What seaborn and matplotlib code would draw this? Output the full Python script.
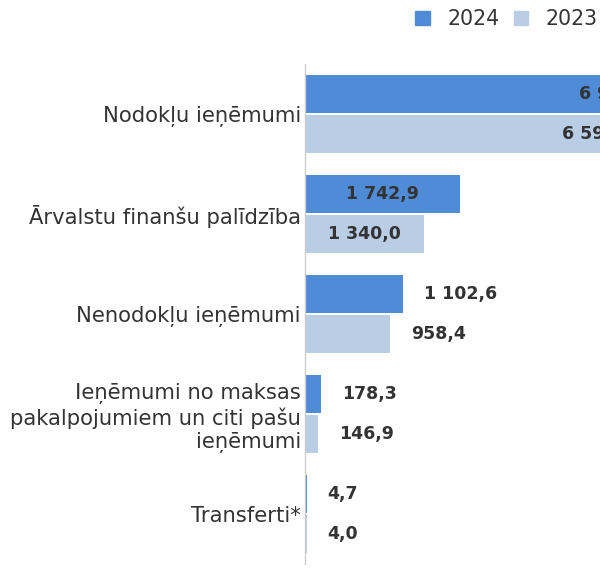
import numpy as np
import pandas as pd
import matplotlib
matplotlib.use("Agg")
import matplotlib.pyplot as plt
import seaborn as sns

categories = [
    "Nodokļu ieņēmumi",
    "Ārvalstu finanšu palīdzība",
    "Nenodokļu ieņēmumi",
    "Ieņēmumi no maksas\npakalpojumiem un citi pašu\nieņēmumi",
    "Transferti*",
]
years = ["2024", "2023"]
values_2024 = [6967.5, 1742.9, 1102.6, 178.3, 4.7]
values_2023 = [6592.3, 1340.0, 958.4, 146.9, 4.0]
colors = ["#4f8bd6", "#b9cde5"]

df = pd.DataFrame({
    "category": categories * 2,
    "year": [years[0]] * len(categories) + [years[1]] * len(categories),
    "value": values_2024 + values_2023,
})


def fmt(v):
    """
    Latvian number format: space for thousands, comma decimal
    """
    return "{:,.1f}".format(v).replace(",", " ").replace(".", ",")


sns.set_theme(style="white")
plt.rcParams["font.family"] = ["DejaVu Sans"]

fig = plt.figure(figsize=(6.0, 5.68), dpi=100)
ax = fig.add_axes([305 / 600, 1 - 564 / 568, 1 - 305 / 600, 500 / 568])

sns.barplot(data=df, y="category", x="value", hue="year", hue_order=years,
            palette=colors, saturation=1, orient="h", width=0.8, ax=ax,
            linewidth=0, legend=False)

ax.set_xlim(0, 3310)
ax.set_ylim(4.5, -0.5)
ax.set_xlabel("")
ax.set_ylabel("")
ax.set_xticks([])
ax.tick_params(axis="y", length=0, pad=3, labelsize=15.2, labelcolor="#333333")
for s in ["top", "right", "bottom"]:
    ax.spines[s].set_visible(False)
ax.spines["left"].set_color("#cccccc")
ax.spines["left"].set_linewidth(1)

# small gap between the two bars of a group, and a minimum visible width
px_per_unit = 295 / 3310
gap = 0.02
for container in ax.containers:
    for bar in container:
        bar.set_y(bar.get_y() + gap / 2)
        bar.set_height(bar.get_height() - gap)
        if bar.get_width() * px_per_unit < 1.5:
            bar.set_width(1.5 / px_per_unit)

# data labels: centred inside wide bars, outside for short ones
for container, vals in zip(ax.containers, [values_2024, values_2023]):
    for bar, v in zip(container, vals):
        w = bar.get_width()
        y = bar.get_y() + bar.get_height() / 2
        if w * px_per_unit > 110:
            ax.annotate(fmt(v), (w / 2, y), ha="center", va="center",
                        fontsize=12.5, fontweight="bold", color="#333333",
                        annotation_clip=False)
        else:
            ax.annotate(fmt(v), (w, y), xytext=(15, 0), textcoords="offset points",
                        ha="left", va="center", fontsize=12.5, fontweight="bold",
                        color="#333333", annotation_clip=False)

handles = [plt.Rectangle((0, 0), 1, 1, color=c) for c in colors]
fig.legend(handles, years, loc="upper right", bbox_to_anchor=(1.027, 1.016),
           ncol=2, frameon=False, fontsize=14.8, handlelength=0.7,
           handleheight=0.7, handletextpad=0.85, columnspacing=0.7,
           labelcolor="#333333")

fig.savefig("out.png", dpi=100)
